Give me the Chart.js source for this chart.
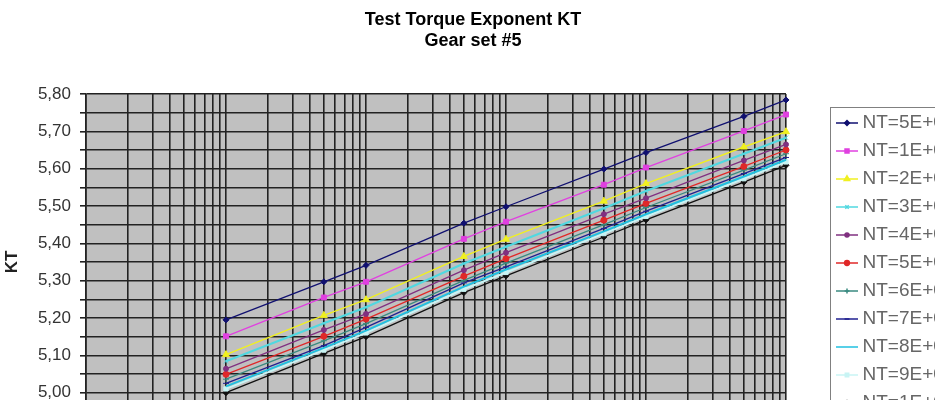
<!DOCTYPE html>
<html>
<head>
<meta charset="utf-8">
<script src="https://cdn.jsdelivr.net/npm/chart.js@4.4.1/dist/chart.umd.min.js"></script>
<style>
  html, body { margin: 0; padding: 0; background: #fff; overflow: hidden; }
  #wrap { position: absolute; left: 0; top: 0; width: 946px; height: 480px; }
</style>
</head>
<body>
<div id="wrap"><canvas id="chart" width="946" height="480"></canvas></div>
<script>
// cycles on the log x axis
const cycles = [1, 5, 10, 50, 100, 500, 1000, 5000, 10000];

const seriesLabels = ['NT=5E+06', 'NT=1E+07', 'NT=2E+07', 'NT=3E+07', 'NT=4E+07', 'NT=5E+07',
                      'NT=6E+07', 'NT=7E+07', 'NT=8E+07', 'NT=9E+07', 'NT=1E+08'];

const kt5e6 = [5.195, 5.297, 5.341, 5.454, 5.498, 5.599, 5.643, 5.740, 5.784];
const kt1e7 = [5.151, 5.255, 5.297, 5.412, 5.458, 5.557, 5.603, 5.701, 5.745];
const kt2e7 = [5.102, 5.207, 5.249, 5.365, 5.411, 5.513, 5.560, 5.658, 5.699];
const kt3e7 = [5.084, 5.186, 5.229, 5.346, 5.391, 5.494, 5.540, 5.640, 5.683];
const kt4e7 = [5.064, 5.168, 5.211, 5.328, 5.375, 5.478, 5.521, 5.622, 5.665];
const kt5e7 = [5.049, 5.151, 5.197, 5.312, 5.359, 5.462, 5.507, 5.606, 5.650];
const kt6e7 = [5.036, 5.139, 5.185, 5.301, 5.347, 5.450, 5.496, 5.596, 5.640];
const kt7e7 = [5.025, 5.126, 5.175, 5.294, 5.337, 5.440, 5.486, 5.587, 5.630];
const kt8e7 = [5.017, 5.120, 5.166, 5.284, 5.330, 5.432, 5.478, 5.579, 5.624];
const kt9e7 = [5.010, 5.114, 5.160, 5.277, 5.322, 5.426, 5.472, 5.573, 5.618];
const kt1e8 = [5.000, 5.105, 5.150, 5.268, 5.313, 5.417, 5.463, 5.564, 5.609];

const seriesValues = [kt5e6, kt1e7, kt2e7, kt3e7, kt4e7, kt5e7, kt6e7, kt7e7, kt8e7, kt9e7, kt1e8];

// axis ticks
const xDecades = [0.1, 1, 10, 100, 1000];
const xLast = 10000;
const yTickValues = [4.90, 4.95, 5.00, 5.05, 5.10, 5.15, 5.20, 5.25, 5.30, 5.35, 5.40,
                     5.45, 5.50, 5.55, 5.60, 5.65, 5.70, 5.75, 5.80];

// look of each series
const lineColors = ['#101070', '#e040e0', '#f0f020', '#50d8e0', '#803080', '#e02828',
                    '#3a8a80', '#202090', '#20c0e0', '#c8f4f4', '#101010'];
const markerStyles = ['rectRot', 'rect', 'triangle', 'crossRot', 'circle', 'circle',
                      'cross', 'line', 'circle', 'rect', 'rectRot'];
const markerSizes = [3, 3.5, 4, 3, 2.5, 3, 3, 3, 0, 3, 3];
const lineWidths = [1.3, 1.3, 1.4, 2.2, 1.3, 1.3, 1.3, 1.3, 2, 2, 1.3];

function makeLegendIcon(i) {
    const c = document.createElement('canvas');
    c.width = 68;
    c.height = 12;
    const g = c.getContext('2d');
    g.strokeStyle = lineColors[i];
    g.lineWidth = 1.5;
    g.beginPath();
    g.moveTo(46, 6);
    g.lineTo(68, 6);
    g.stroke();
    if (markerSizes[i] > 0) {
        g.fillStyle = lineColors[i];
        g.strokeStyle = lineColors[i];
        Chart.helpers.drawPoint(g, {pointStyle: markerStyles[i], radius: markerSizes[i] * 0.8, rotation: 0, borderWidth: 1}, 57, 6);
    }
    return c;
}

const legendIcons = seriesLabels.map((l, i) => makeLegendIcon(i));

const datasets = seriesLabels.map((label, i) => ({
    label: label,
    data: cycles.map((x, j) => ({x: x, y: seriesValues[i][j]})),
    borderColor: lineColors[i],
    backgroundColor: lineColors[i],
    borderWidth: lineWidths[i],
    pointStyle: markerStyles[i],
    pointRadius: markerSizes[i],
    pointBorderWidth: 1,
    tension: 0,
    clip: false
}));

const plotBg = {
    id: 'plotBg',
    beforeDraw(chart) {
        const {ctx, chartArea: a} = chart;
        ctx.save();
        ctx.fillStyle = '#c0c0c0';
        ctx.fillRect(a.left, a.top, a.width, a.height);
        ctx.restore();
    }
};

const legendFrame = {
    id: 'legendFrame',
    afterDraw(chart) {
        const lg = chart.legend;
        if (!lg || !lg.legendHitBoxes || !lg.legendHitBoxes.length) return;
        const hb = lg.legendHitBoxes[0];
        const ctx = chart.ctx;
        ctx.save();
        ctx.strokeStyle = '#808080';
        ctx.lineWidth = 1;
        ctx.strokeRect(Math.round(hb.left + 35) + 0.5, Math.round(hb.top - 7) + 0.5, 400, 600);
        ctx.restore();
    }
};

const gridColor = '#222';

new Chart(document.getElementById('chart'), {
    type: 'line',
    data: { datasets: datasets },
    plugins: [plotBg, legendFrame],
    options: {
        responsive: false,
        animation: false,
        layout: { padding: 0 },
        font: { family: 'Arial, "Liberation Sans", sans-serif' },
        plugins: {
            title: {
                display: true,
                text: ['Test Torque Exponent KT', 'Gear set #5'],
                color: '#000',
                font: { size: 18, weight: 'bold', lineHeight: 1.15 },
                padding: { top: 10, bottom: 42.6 }
            },
            legend: {
                position: 'right',
                align: 'start',
                maxWidth: 160,
                title: { display: true, text: '', font: { size: 1, lineHeight: 1 }, padding: { top: 103.5, bottom: 0 } },
                labels: {
                    usePointStyle: true,
                    pointStyleWidth: 58,
                    padding: 9,
                    color: '#111',
                    font: { size: 19 },
                    generateLabels(chart) {
                        return chart.data.datasets.map((ds, i) => ({
                            text: ds.label,
                            pointStyle: legendIcons[i],
                            fillStyle: ds.borderColor,
                            strokeStyle: ds.borderColor,
                            lineWidth: 0,
                            hidden: false,
                            datasetIndex: i
                        }));
                    }
                }
            },
            tooltip: { enabled: false }
        },
        scales: {
            x: {
                type: 'logarithmic',
                min: 0.1,
                max: xLast,
                afterFit(scale) { scale.height = 50; },
                afterBuildTicks(scale) {
                    const t = [];
                    xDecades.forEach(d => { for (let m = 1; m <= 9; m++) t.push({value: d * m}); });
                    t.push({value: xLast});
                    scale.ticks = t;
                },
                grid: { color: gridColor, lineWidth: 1.6, tickLength: 6 },
                border: { color: gridColor },
                ticks: { autoSkip: false, maxRotation: 0, color: '#333', font: { size: 15 } }
            },
            y: {
                min: 4.9,
                max: 5.8,
                afterFit(scale) { scale.width = 86; },
                afterBuildTicks(scale) {
                    scale.ticks = yTickValues.map(v => ({value: v}));
                },
                grid: { color: gridColor, lineWidth: 1.6, tickLength: 6 },
                border: { color: gridColor, width: 1.6 },
                title: { display: true, text: 'KT', color: '#222', font: { size: 17, weight: 'bold' }, padding: { top: 2, bottom: 0 } },
                ticks: {
                    autoSkip: false,
                    padding: 9,
                    color: '#333',
                    font: { size: 17 },
                    callback(value) {
                        const c = Math.round(value * 100);
                        return c % 10 === 0 ? (c / 100).toFixed(2).replace('.', ',') : '';
                    }
                }
            }
        }
    }
});
</script>
</body>
</html>
